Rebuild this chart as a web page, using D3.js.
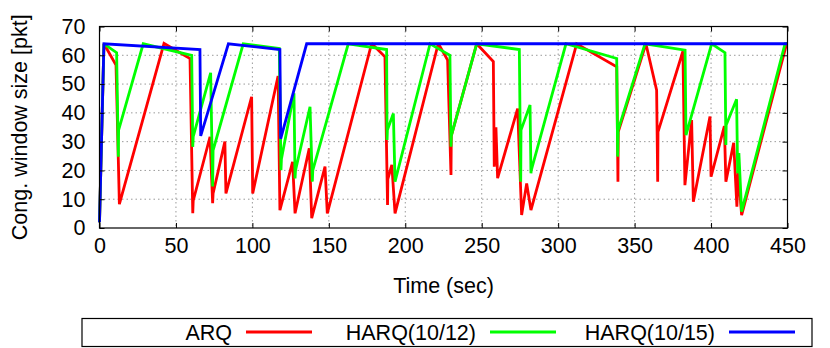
<!DOCTYPE html>
<html>
<head>
<meta charset="utf-8">
<script src="https://cdn.jsdelivr.net/npm/d3@7"></script>
<style>
body { margin: 0; background: #fff; }
svg text { font-family: "Liberation Sans", Arial, Helvetica, sans-serif; fill: #000; }
</style>
</head>
<body>
<svg id="chart" width="830" height="348"></svg>
<script>
// series: [time (sec), cwnd (pkt)]
var arq = [[0,2],[1.4,32],[2.9,64],[10.8,56.6],[12.3,24],[13,8.3],[42.2,64.1],[59.2,58.9],[61,5.1],[61.3,9.5],
  [72.3,31.7],[74,8.6],[74.3,12],[82,30],[82.7,12],[99.5,45.6],[100.2,12],[116.8,52.8],[118,6.2],[126.3,23],
  [127.9,5.1],[137.2,27.7],[138.8,3.4],[147.5,21.3],[149,5.1],[178,64.1],[186.7,59.5],[188.4,8],[188.6,17],
  [191.2,21.9],[193.3,5.1],[221.6,64.1],[227.7,58.3],[229.9,18.4],[230.1,32],[246.7,64],[257.6,57.8],[258.2,21.3],
  [259.3,35],[260.4,17.3],[273.5,41.5],[276.1,4.5],[279.4,15.5],[282.2,6.2],[312.1,64],[338.3,56],[339.1,16.1],
  [339.3,33.4],[357.4,64],[364.4,47.9],[365.1,16.1],[365.3,33.4],[381.6,61.4],[382.9,14.9],[387.3,37.5],[388.4,9.1],
  [399.3,38.7],[400,17.8],[408.7,35.4],[409.7,16.1],[414.8,29.6],[416.9,7.4],[417.8,19.6],[420,4.5],[449.4,64],[450,64]];

var harq12 = [[0,2],[1.4,32],[2.9,64],[11.2,60.9],[12.3,24.8],[12.5,34],[28.6,64],[60.3,60],[61,28.2],[61.3,31.7],
  [72.7,53.9],[74,14.4],[74.3,27],[94,64],[117.6,62.4],[118.7,20.1],[119,24],[127.2,46.8],[127.9,17.2],[128.2,20],
  [137.7,42.1],[139.2,16.1],[139.5,20],[162.7,64],[187.8,62],[188.1,30.6],[188.3,34],[192.2,39.8],[193.3,16.1],
  [216.2,64],[229.2,60],[229.9,28.2],[230.1,32],[246.7,64],[274.6,62],[275.5,16.1],[275.7,34],[281.6,42.7],
  [282.2,19],[282.4,20],[305.1,64],[338.3,58.9],[338.9,24.8],[339.2,34],[356.8,64],[383,61.8],[383.6,32.3],
  [400.4,64],[409.1,60.9],[409.7,28.8],[409.9,35.8],[416.7,44.7],[417.4,19],[418.2,26],[420,5.7],[448.4,64],[450,64]];

var harq15 = [[0,2],[1.4,32],[2.9,64],[65.7,62],[66.2,32],[84.3,64],[118,62],[118.5,31],[135.5,64],[450,64]];

var seriesNames = ["ARQ", "HARQ(10/12)", "HARQ(10/15)"];
var seriesColors = ["#ff0000", "#00ff00", "#0000ff"];
var xTicks = [0, 50, 100, 150, 200, 250, 300, 350, 400, 450];
var yTicks = [0, 10, 20, 30, 40, 50, 60, 70];

var svg = d3.select("#chart");
var plotLeft = 99.5, plotRight = 787.5, plotTop = 26.5, plotBottom = 228;

var x = d3.scaleLinear().domain([0, 450]).range([plotLeft, plotRight]);
var y = d3.scaleLinear().domain([0, 70]).range([plotBottom, plotTop]);

// grid (dotted)
var grid = svg.append("g").attr("stroke", "#9a9a9a").attr("stroke-width", 1).attr("stroke-dasharray", "1.5,3");
grid.selectAll(".gx").data(xTicks.slice(1, -1)).enter().append("line")
  .attr("x1", function(d) { return x(d); }).attr("x2", function(d) { return x(d); })
  .attr("y1", plotTop).attr("y2", plotBottom);
grid.selectAll(".gy").data(yTicks.slice(1, -1)).enter().append("line")
  .attr("x1", plotLeft).attr("x2", plotRight)
  .attr("y1", function(d) { return y(d); }).attr("y2", function(d) { return y(d); });

// lines
var line = d3.line().x(function(d) { return x(d[0]); }).y(function(d) { return y(d[1]); });
[arq, harq12, harq15].forEach(function(s, i) {
  svg.append("path").datum(s)
    .attr("d", line)
    .attr("fill", "none")
    .attr("stroke", seriesColors[i])
    .attr("stroke-width", 2.8)
    .attr("stroke-linejoin", "miter")
    .attr("stroke-miterlimit", 2);
});

// axes, ticks inward on all four sides
function styleAxis(g) {
  g.attr("font-family", null).attr("font-size", null);
  g.select(".domain").remove();
  g.selectAll(".tick line").attr("stroke", "#000").attr("stroke-width", 1);
  g.selectAll(".tick text").style("font-size", "21.5px");
}
svg.append("g").attr("transform", "translate(0," + plotBottom + ")")
  .call(d3.axisBottom(x).tickValues(xTicks).tickSize(-5).tickPadding(9.5))
  .call(styleAxis);
svg.append("g").attr("transform", "translate(" + plotLeft + ",0)")
  .call(d3.axisLeft(y).tickValues(yTicks).tickSize(-5).tickPadding(14))
  .call(styleAxis);
svg.append("g").attr("transform", "translate(0," + plotTop + ")")
  .call(d3.axisTop(x).tickValues(xTicks).tickSize(-5).tickFormat(""))
  .call(styleAxis);
svg.append("g").attr("transform", "translate(" + plotRight + ",0)")
  .call(d3.axisRight(y).tickValues(yTicks).tickSize(-5).tickFormat(""))
  .call(styleAxis);

// border
svg.append("rect").attr("x", plotLeft).attr("y", plotTop)
  .attr("width", plotRight - plotLeft).attr("height", plotBottom - plotTop)
  .attr("fill", "none").attr("stroke", "#000").attr("stroke-width", 1.2);

// axis titles
svg.append("text").attr("x", (plotLeft + plotRight) / 2).attr("y", 293)
  .attr("text-anchor", "middle").style("font-size", "21.5px").text("Time (sec)");
svg.append("text").attr("transform", "translate(27," + ((plotTop + plotBottom) / 2) + ") rotate(-90)")
  .attr("text-anchor", "middle").style("font-size", "21.5px").text("Cong. window size [pkt]");

// legend
var legend = svg.append("g");
legend.append("rect").attr("x", 82).attr("y", 318.5).attr("width", 730).attr("height", 28)
  .attr("fill", "none").attr("stroke", "#000").attr("stroke-width", 1.2);
var legendTextEnd = [232, 476, 715];
seriesNames.forEach(function(name, i) {
  legend.append("text").attr("x", legendTextEnd[i]).attr("y", 340)
    .attr("text-anchor", "end").style("font-size", "21.5px").text(name);
  legend.append("line")
    .attr("x1", legendTextEnd[i] + 14).attr("x2", legendTextEnd[i] + 80)
    .attr("y1", 332).attr("y2", 332)
    .attr("stroke", seriesColors[i]).attr("stroke-width", 2.8);
});
</script>
</body>
</html>
